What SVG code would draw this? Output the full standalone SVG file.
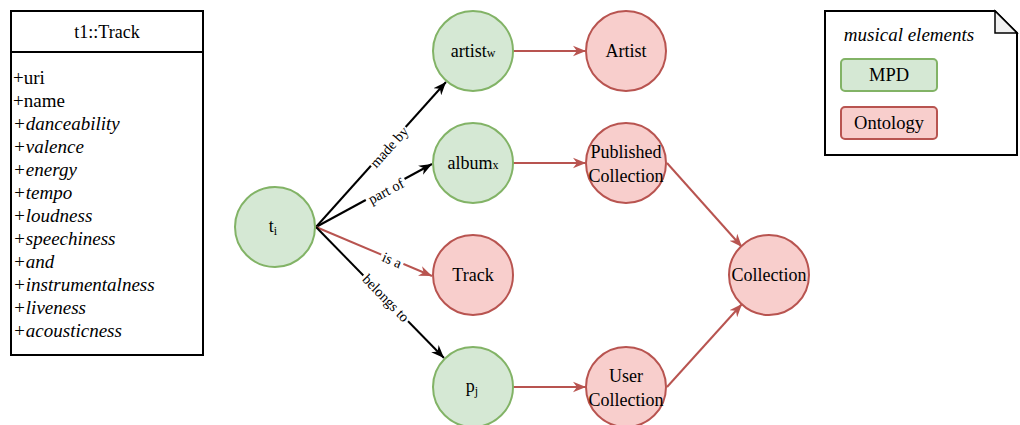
<svg xmlns="http://www.w3.org/2000/svg" width="1020" height="425" viewBox="0 0 1020 425">
<style>
text{font-family:'Liberation Serif','Times New Roman',serif;fill:#000}
.t{font-size:18px;text-anchor:middle;dominant-baseline:central}
.li{font-size:19px}
.it{font-size:19px;font-style:italic}
.g{fill:#d5e8d4;stroke:#82b366;stroke-width:2}
.r{fill:#f8cecc;stroke:#b85450;stroke-width:2}
.e{fill:none;stroke:#000;stroke-width:2}
.er{fill:none;stroke:#b85450;stroke-width:2}
.lbl{font-size:14.5px;text-anchor:middle;dominant-baseline:central}
.sub{font-size:12px}
</style>
<defs>
<marker id="ab" viewBox="0 0 10 10" markerUnits="userSpaceOnUse" markerWidth="13" markerHeight="13" refX="10" refY="5" orient="auto"><path d="M0,1 L10,5 L0,9 L3,5 z" fill="#000"/></marker>
<marker id="ar" viewBox="0 0 10 10" markerUnits="userSpaceOnUse" markerWidth="13" markerHeight="13" refX="10" refY="5" orient="auto"><path d="M0,1 L10,5 L0,9 L3,5 z" fill="#b85450"/></marker>
</defs>
<rect width="1020" height="425" fill="#fff"/>
<g id="uml">
<rect x="11" y="11" width="192" height="344" fill="#fff" stroke="#000" stroke-width="2"/>
<line x1="11" y1="52" x2="203" y2="52" stroke="#000" stroke-width="2"/>
<text class="t" x="107" y="32">t1::Track</text>
<text x="13" y="84" class="li">+uri</text>
<text x="13" y="107" class="li">+name</text>
<text x="13" y="130" class="it">+danceability</text>
<text x="13" y="153" class="it">+valence</text>
<text x="13" y="176" class="it">+energy</text>
<text x="13" y="199" class="it">+tempo</text>
<text x="13" y="222" class="it">+loudness</text>
<text x="13" y="245" class="it">+speechiness</text>
<text x="13" y="268" class="it">+and</text>
<text x="13" y="291" class="it">+instrumentalness</text>
<text x="13" y="314" class="it">+liveness</text>
<text x="13" y="337" class="it">+acousticness</text>
</g>

<g id="connectors">
<line class="e" x1="316" y1="227" x2="446" y2="82" marker-end="url(#ab)"/>
<line class="e" x1="316" y1="227" x2="432" y2="164" marker-end="url(#ab)"/>
<line class="er" x1="316" y1="227" x2="432" y2="276" marker-end="url(#ar)"/>
<line class="e" x1="316" y1="227" x2="444" y2="358" marker-end="url(#ab)"/>
<line class="er" x1="513" y1="51" x2="586" y2="51" marker-end="url(#ar)"/>
<line class="er" x1="513" y1="163" x2="586" y2="163" marker-end="url(#ar)"/>
<line class="er" x1="513" y1="387" x2="586" y2="387" marker-end="url(#ar)"/>
<line class="er" x1="667" y1="163" x2="742" y2="247" marker-end="url(#ar)"/>
<line class="er" x1="667" y1="387" x2="742" y2="304" marker-end="url(#ar)"/>
<g transform="translate(389,147) rotate(-48)"><rect x="-26" y="-7" width="52" height="14" fill="#fff"/><text class="lbl" x="0" y="0">made by</text></g>
<g transform="translate(386,191) rotate(-28)"><rect x="-22" y="-7" width="44" height="14" fill="#fff"/><text class="lbl" x="0" y="0">part of</text></g>
<g transform="translate(392,260) rotate(23)"><rect x="-12" y="-7" width="24" height="14" fill="#fff"/><text class="lbl" x="0" y="0">is a</text></g>
<g transform="translate(386,298) rotate(45.7)"><rect x="-32" y="-7" width="64" height="14" fill="#fff"/><text class="lbl" x="0" y="0">belongs to</text></g>
</g>

<g id="ti"><circle class="g" cx="275" cy="227" r="40"/><text class="t" x="273" y="226">t<tspan class="sub" dy="5">i</tspan></text></g>
<g id="artistw"><circle class="g" cx="473" cy="51" r="40"/><text class="t" x="473" y="51">artist<tspan class="sub" dy="2">w</tspan></text></g>
<g id="albumx"><circle class="g" cx="473" cy="163" r="40"/><text class="t" x="473" y="163">album<tspan class="sub" dy="2">x</tspan></text></g>
<g id="track"><circle class="r" cx="473" cy="275" r="40"/><text class="t" x="473" y="275">Track</text></g>
<g id="pj"><circle class="g" cx="473" cy="387" r="40"/><text class="t" x="472" y="386">p<tspan class="sub" dy="5">j</tspan></text></g>
<g id="artist"><circle class="r" cx="626" cy="51" r="40"/><text class="t" x="626" y="51">Artist</text></g>
<g id="published"><circle class="r" cx="626" cy="163" r="40"/><text class="t" x="626" y="152">Published</text><text class="t" x="626" y="176">Collection</text></g>
<g id="user"><circle class="r" cx="626" cy="387" r="40"/><text class="t" x="626" y="376">User</text><text class="t" x="626" y="400">Collection</text></g>
<g id="collection"><circle class="r" cx="769" cy="275" r="40"/><text class="t" x="769" y="275">Collection</text></g>

<g id="legend">
<path d="M825,11 L995,11 L1017,33 L1017,155 L825,155 Z" fill="#fff" stroke="#000" stroke-width="2"/>
<path d="M995,11 L995,33 L1017,33 Z" fill="#f0f0f0" stroke="#000" stroke-width="1.5"/>
<text class="it" x="909" y="41" text-anchor="middle">musical elements</text>
<rect x="841" y="59" width="96" height="32" rx="4" class="g" stroke-width="1.5"/>
<text class="t" x="889" y="75" style="font-size:18.5px">MPD</text>
<rect x="841" y="107" width="96" height="32" rx="4" class="r" stroke-width="1.5"/>
<text class="t" x="889" y="123" style="font-size:18.5px">Ontology</text>
</g>
</svg>
